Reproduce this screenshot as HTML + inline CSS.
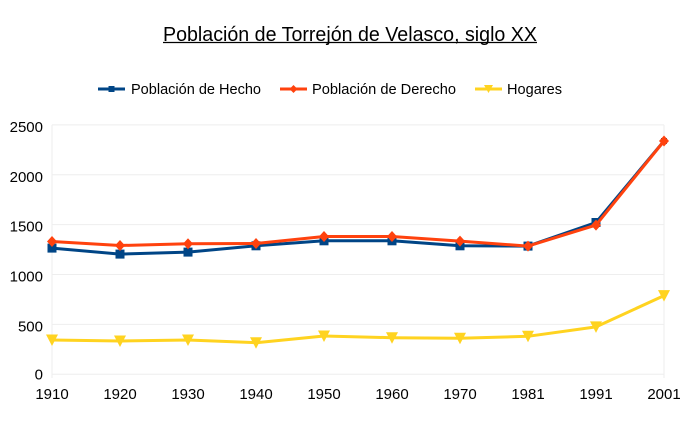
<!DOCTYPE html>
<html><head><meta charset="utf-8"><style>
html,body{margin:0;padding:0;background:#fff;}
svg{display:block;}
text{font-family:"Liberation Sans",Arial,sans-serif;fill:#000;}
</style></head><body>
<svg width="700" height="431" viewBox="0 0 700 431" xmlns="http://www.w3.org/2000/svg">
<rect width="700" height="431" fill="#fff"/>
<!-- title -->
<text x="350" y="41" font-size="20.5" text-anchor="middle" textLength="374" lengthAdjust="spacingAndGlyphs">Población de Torrejón de Velasco, siglo XX</text>
<line x1="163" y1="42.5" x2="537" y2="42.5" stroke="#000" stroke-width="1.2"/>
<!-- legend -->
<g stroke-width="3">
<line x1="98" y1="89" x2="125" y2="89" stroke="#004586"/>
<rect x="108.5" y="86" width="6" height="6" fill="#004586" stroke="none"/>
<text x="131" y="94" font-size="15" textLength="130" lengthAdjust="spacingAndGlyphs" stroke="none">Población de Hecho</text>
<line x1="280" y1="89" x2="307" y2="89" stroke="#ff420e"/>
<polygon points="293.5,85 297.5,89 293.5,93 289.5,89" fill="#ff420e" stroke="none"/>
<text x="312" y="94" font-size="15" textLength="144" lengthAdjust="spacingAndGlyphs" stroke="none">Población de Derecho</text>
<line x1="475" y1="89" x2="502" y2="89" stroke="#ffd320"/>
<polygon points="484,85 493,85 488.5,93" fill="#ffd320" stroke="none"/>
<text x="507" y="94" font-size="15" textLength="55" lengthAdjust="spacingAndGlyphs" stroke="none">Hogares</text>
</g>
<!-- grid -->
<g stroke="#eeeeee" stroke-width="1">
<line x1="52" y1="124.9" x2="664" y2="124.9"/>
<line x1="52" y1="174.8" x2="664" y2="174.8"/>
<line x1="52" y1="224.6" x2="664" y2="224.6"/>
<line x1="52" y1="274.5" x2="664" y2="274.5"/>
<line x1="52" y1="324.4" x2="664" y2="324.4"/>
<line x1="52" y1="374.3" x2="664" y2="374.3"/>
<line x1="52" y1="124.9" x2="52" y2="378"/>
<line x1="664" y1="124.9" x2="664" y2="378"/>
</g>
<!-- y labels -->
<g font-size="15" text-anchor="end">
<text x="43" y="132">2500</text>
<text x="43" y="182">2000</text>
<text x="43" y="231.5">1500</text>
<text x="43" y="281.5">1000</text>
<text x="43" y="331.5">500</text>
<text x="43" y="379.5">0</text>
</g>
<!-- x labels -->
<g font-size="15" text-anchor="middle">
<text x="52" y="399">1910</text>
<text x="120" y="399">1920</text>
<text x="188" y="399">1930</text>
<text x="256" y="399">1940</text>
<text x="324" y="399">1950</text>
<text x="392" y="399">1960</text>
<text x="460" y="399">1970</text>
<text x="528" y="399">1981</text>
<text x="596" y="399">1991</text>
<text x="664" y="399">2001</text>
</g>
<!-- Hecho -->
<polyline fill="none" stroke="#004586" stroke-width="3" stroke-linejoin="round" points="52,248.1 120,254.1 188,252.1 256,245.8 324,240.8 392,240.8 460,245.8 528,246.1 596,222.5 664,141"/>
<g fill="#004586">
<rect x="47.5" y="243.6" width="9" height="9"/>
<rect x="115.5" y="249.6" width="9" height="9"/>
<rect x="183.5" y="247.6" width="9" height="9"/>
<rect x="251.5" y="241.3" width="9" height="9"/>
<rect x="319.5" y="236.3" width="9" height="9"/>
<rect x="387.5" y="236.3" width="9" height="9"/>
<rect x="455.5" y="241.3" width="9" height="9"/>
<rect x="523.5" y="241.6" width="9" height="9"/>
<rect x="591.5" y="218" width="9" height="9"/>
<rect x="661" y="138" width="6" height="6"/>
</g>
<!-- Derecho -->
<polyline fill="none" stroke="#ff420e" stroke-width="3" stroke-linejoin="round" points="52,241.5 120,245.5 188,243.8 256,243.5 324,236.5 392,236.5 460,241.1 528,246.1 596,225.1 664,141"/>
<g fill="#ff420e">
<polygon points="52,236 57,241.5 52,247 47,241.5"/>
<polygon points="120,240 125,245.5 120,251 115,245.5"/>
<polygon points="188,238.3 193,243.8 188,249.3 183,243.8"/>
<polygon points="256,238 261,243.5 256,249 251,243.5"/>
<polygon points="324,231 329,236.5 324,242 319,236.5"/>
<polygon points="392,231 397,236.5 392,242 387,236.5"/>
<polygon points="460,235.6 465,241.1 460,246.6 455,241.1"/>
<polygon points="528,240.6 533,246.1 528,251.6 523,246.1"/>
<polygon points="596,219.6 601,225.1 596,230.6 591,225.1"/>
<polygon points="664,135.5 669,141 664,146.5 659,141"/>
</g>
<!-- Hogares -->
<polyline fill="none" stroke="#ffd320" stroke-width="3" stroke-linejoin="round" points="52,340 120,341 188,340 256,342.7 324,336 392,337.7 460,338.3 528,336.3 596,326.9 664,295.6"/>
<g fill="#ffd320">
<polygon points="46,334.5 58,334.5 52,346"/>
<polygon points="114,335.5 126,335.5 120,347"/>
<polygon points="182,334.5 194,334.5 188,346"/>
<polygon points="250,337.2 262,337.2 256,348.7"/>
<polygon points="318,330.5 330,330.5 324,342"/>
<polygon points="386,332.2 398,332.2 392,343.7"/>
<polygon points="454,332.8 466,332.8 460,344.3"/>
<polygon points="522,330.8 534,330.8 528,342.3"/>
<polygon points="590,321.4 602,321.4 596,332.9"/>
<polygon points="658,290.1 670,290.1 664,301.6"/>
</g>
</svg>
</body></html>
